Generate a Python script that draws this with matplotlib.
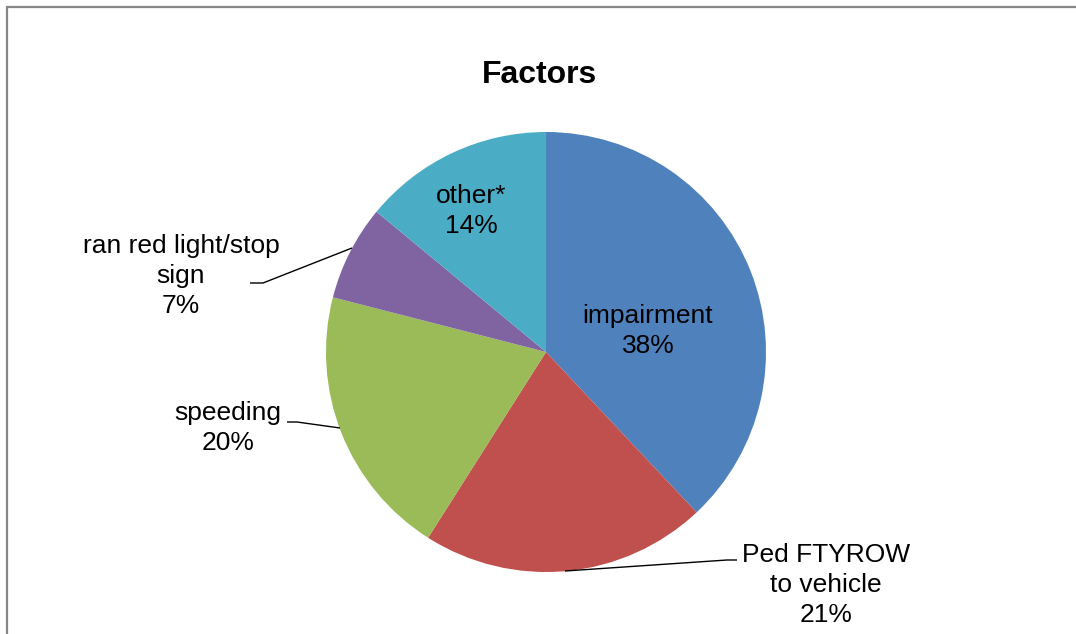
import matplotlib
matplotlib.use("Agg")
import matplotlib.pyplot as plt
from matplotlib.patches import Rectangle

plt.rcParams['font.family'] = ['Liberation Sans', 'DejaVu Sans']

# Data
factors = ['impairment', 'Ped FTYROW\nto vehicle', 'speeding',
           'ran red light/stop\nsign', 'other*']
shares = [38, 21, 20, 7, 14]
colors = ['#4F81BD', '#C0504D', '#9BBB59', '#8064A2', '#4BACC6']

# Layout (pixels of the 1076x634 picture)
W, H = 1076, 634
CX, CY, R = 546, 352, 220
label_pos = [(648, 331), (826, 585), (228, 428), (181, 276), (471, 211)]
leaders = {
    1: [(565, 571), (727, 560), (737, 560)],
    2: [(340, 428), (297, 422), (287, 422)],
    3: [(352, 248), (263, 283), (250, 283)],
}


def px(x, y):
    # pixel position -> pie data coordinates (radius 1)
    return (x - CX) / R, (CY - y) / R


fig = plt.figure(figsize=(W / 100, H / 100), dpi=100)
ax = fig.add_axes([0, 0, 1, 1])

ax.pie(shares, colors=colors, startangle=90, counterclock=False,
       radius=1, center=(0, 0), frame=True,
       wedgeprops=dict(linewidth=0))
ax.set_xlim(-CX / R, (W - CX) / R)
ax.set_ylim(-(H - CY) / R, CY / R)
ax.set_aspect('equal')
ax.axis('off')

for i, (name, val) in enumerate(zip(factors, shares)):
    x, y = px(*label_pos[i])
    ax.text(x, y, '%s\n%d%%' % (name, val), ha='center', va='center',
            fontsize=19, linespacing=1.33, color='black')

for i, pts in leaders.items():
    xs, ys = zip(*[px(*p) for p in pts])
    ax.plot(xs, ys, color='black', lw=1.0, solid_capstyle='butt')

fig.text(540 / W, 1 - 75 / H, 'Factors', ha='center', va='center',
         fontsize=23, fontweight='bold')

# chart frame (only left and top edges fall inside the picture)
fig.patches.append(Rectangle((7 / W, -0.1), 1.2, 1.1 - 7 / H,
                             transform=fig.transFigure, fill=False,
                             edgecolor='#878787', lw=1.6))

fig.savefig('out.png', dpi=100)
